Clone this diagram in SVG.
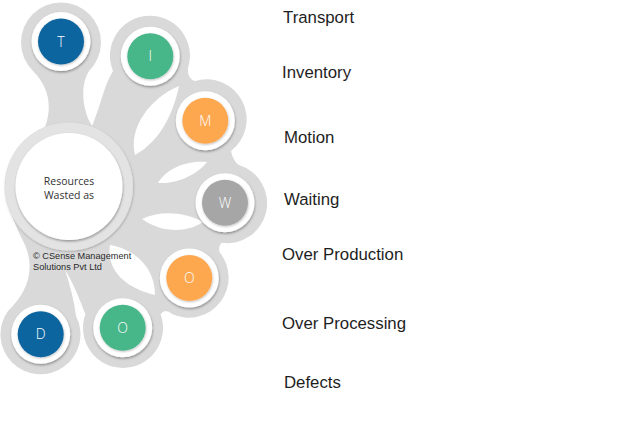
<svg xmlns="http://www.w3.org/2000/svg" width="636" height="448" viewBox="0 0 636 448">
<defs>
<filter id="sh" x="-30%" y="-30%" width="160%" height="170%"><feDropShadow dx="0.5" dy="1.5" stdDeviation="1.2" flood-color="#000" flood-opacity="0.35"/></filter>
<filter id="sh2" x="-30%" y="-30%" width="160%" height="170%"><feDropShadow dx="0.5" dy="1" stdDeviation="0.8" flood-color="#000" flood-opacity="0.25"/></filter>
<style>
.blob{fill:#d9d9d9}
.gap{fill:#ffffff}
.wr{fill:#ffffff;filter:url(#sh)}
.lt{font-family:"Open Sans","DejaVu Sans",sans-serif;font-size:14px;font-weight:300;fill:#ffffff;text-anchor:middle}
.lbl{font-family:"Liberation Sans",Arial,sans-serif;font-size:16.8px;fill:#1e1e1e}
.ctr{font-family:"Open Sans","DejaVu Sans",sans-serif;font-size:10.5px;fill:#333333;text-anchor:middle}
.cp{font-family:"Liberation Sans",Arial,sans-serif;font-size:9.2px;fill:#2a2a2a}
</style>
</defs>
<rect width="636" height="448" fill="#ffffff"/>
<g id="connectors">
<path class="blob" d="M 45,127 C 52,108 50,88 33,71 A 40 40 0 1 1 89,71 C 80,85 82,110 92,126 C 100,108 104,85 113,71 A 40 40 0 1 1 188,68 Q 187,79 195,81 A 40 40 0 0 1 231,151 Q 233,161 239,165 A 40 40 0 0 1 221.5,242.8 Q 218,247 219.6,252.3 A 40 40 0 0 1 172,314 Q 165,308 160.6,314.3 A 40 40 0 1 1 85.4,314.3 C 80,300 72,280 65,270 C 70,285 74,300 76,316 A 40 40 0 1 1 8,311 C 28,292 36,268 24,243 Q 17,230 12,216 A 64 64 0 0 1 45,127 Z"/>
<path class="gap" d="M 135,155 C 128,128 150,98 179,86 C 174,110 162,140 135,155 Z"/>
<path class="gap" d="M 158,183 C 165,170 185,160 207,162 C 198,174 178,184 158,183 Z"/>
<path class="gap" d="M 142,219 C 160,210 185,212 203,222 C 185,234 160,232 142,219 Z"/>
<path class="gap" d="M 110,245 C 106,270 125,288 155,295 C 155,270 138,250 110,245 Z"/>
</g>
<g id="center">
<circle cx="69" cy="186.5" r="64" fill="#e3e3e3" filter="url(#sh2)"/>
<circle cx="69" cy="186.5" r="53.5" fill="#ffffff" filter="url(#sh)"/>
<text class="ctr" x="69" y="185">Resources</text>
<text class="ctr" x="69" y="199">Wasted as</text>
</g>
<g id="n-T"><circle class="wr" cx="61" cy="41.5" r="29.5"/><circle cx="61" cy="41.5" r="23" fill="#0b65a0" filter="url(#sh2)"/><text class="lt" x="61" y="46.5">T</text></g>
<g id="n-I"><circle class="wr" cx="150.3" cy="56.3" r="29.5"/><circle cx="150.3" cy="56.3" r="23" fill="#47b689" filter="url(#sh2)"/><text class="lt" x="150.3" y="61.3">I</text></g>
<g id="n-M"><circle class="wr" cx="205.3" cy="120.7" r="29.5"/><circle cx="205.3" cy="120.7" r="23" fill="#fda74f" filter="url(#sh2)"/><text class="lt" x="205.3" y="125.7">M</text></g>
<g id="n-W"><circle class="wr" cx="225" cy="202.7" r="29.5"/><circle cx="225" cy="202.7" r="23" fill="#a6a6a6" filter="url(#sh2)"/><text class="lt" x="225" y="207.7">W</text></g>
<g id="n-O1"><circle class="wr" cx="189.3" cy="278" r="29.5"/><circle cx="189.3" cy="278" r="23" fill="#fda74f" filter="url(#sh2)"/><text class="lt" x="189.3" y="283">O</text></g>
<g id="n-O2"><circle class="wr" cx="122.7" cy="327.7" r="29.5"/><circle cx="122.7" cy="327.7" r="23" fill="#47b689" filter="url(#sh2)"/><text class="lt" x="122.7" y="332.7">O</text></g>
<g id="n-D"><circle class="wr" cx="40.7" cy="334.3" r="29.5"/><circle cx="40.7" cy="334.3" r="23" fill="#0b65a0" filter="url(#sh2)"/><text class="lt" x="40.7" y="339.3">D</text></g>
<g id="copyright">
<text class="cp" x="33" y="259">© CSense Management</text>
<text class="cp" x="33" y="270">Solutions Pvt Ltd</text>
</g>
<g id="labels">
<text class="lbl" x="283" y="23">Transport</text>
<text class="lbl" x="282" y="78">Inventory</text>
<text class="lbl" x="284" y="142.5">Motion</text>
<text class="lbl" x="284" y="204.5">Waiting</text>
<text class="lbl" x="282" y="260">Over Production</text>
<text class="lbl" x="282" y="328.5">Over Processing</text>
<text class="lbl" x="284" y="388">Defects</text>
</g>
</svg>
